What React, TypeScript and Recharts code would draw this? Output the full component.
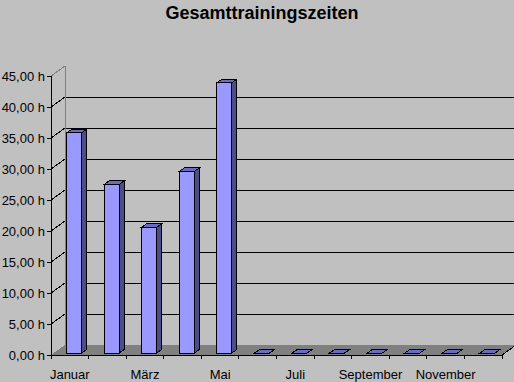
import React from 'react';
import { BarChart, Bar, XAxis, YAxis, CartesianGrid } from 'recharts';

const months = ['Januar', 'Februar', 'März', 'April', 'Mai', 'Juni', 'Juli', 'August', 'September', 'Oktober', 'November', 'Dezember'];
const hours = [35.5, 27.2, 20.3, 29.3, 43.6, 0, 0, 0, 0, 0, 0, 0];
const yTicks = [0, 5, 10, 15, 20, 25, 30, 35, 40, 45];

const data = months.map((month, i) => ({ month, hours: hours[i] }));

const W = 514;
const H = 382;
const MARGIN = { top: 76, right: 12, left: 0, bottom: 0 };
const Y_AXIS_W = 51;
const X_AXIS_H = 27;
const PLOT_LEFT = MARGIN.left + Y_AXIS_W;
const PLOT_RIGHT = W - MARGIN.right;
const PLOT_TOP = MARGIN.top;
const PLOT_BOTTOM = H - MARGIN.bottom - X_AXIS_H;
const BAND = (PLOT_RIGHT - PLOT_LEFT) / months.length;

// 3d wall depth and bar depth
const WALL_DX = 14;
const WALL_DY = -10;
const BAR_DX = 5;
const BAR_DY = -3.5;
const BAR_SHIFT_X = 4.6;
const BAR_SHIFT_Y = -2;

const FONT = 'Arial, "Liberation Sans", sans-serif';

const fmtHours = (v: number) => v.toFixed(2).replace('.', ',') + ' h';

const GridLine = (p: any) => {
  const { x1, x2, y1, index } = p;
  if (Math.abs(y1 - PLOT_BOTTOM) < 1) {
    return (
      <g key={`grid-${index}`}>
        <polygon
          points={`${x1},${y1} ${x2},${y1} ${x2 + WALL_DX},${y1 + WALL_DY} ${x1 + WALL_DX},${y1 + WALL_DY}`}
          fill="#808080"
        />
        <line x1={x2} y1={y1} x2={x2 + WALL_DX} y2={y1 + WALL_DY} stroke="#000" />
      </g>
    );
  }
  if (Math.abs(y1 - PLOT_TOP) < 1) {
    return (
      <g key={`grid-${index}`}>
        <line x1={x1} y1={y1} x2={x1 + WALL_DX} y2={y1 + WALL_DY} stroke="#808080" />
        <line x1={x1 + WALL_DX} y1={y1 + WALL_DY} x2={x1 + WALL_DX} y2={PLOT_BOTTOM + WALL_DY} stroke="#808080" />
      </g>
    );
  }
  return (
    <g key={`grid-${index}`}>
      <line x1={x1} y1={y1} x2={x1 + WALL_DX} y2={y1 + WALL_DY} stroke="#000" />
      <line x1={x1 + WALL_DX} y1={y1 + WALL_DY} x2={x2 + WALL_DX} y2={y1 + WALL_DY} stroke="#000" />
    </g>
  );
};

const Bar3D = (props: any) => {
  const { x, y, width, height } = props;
  if (x == null || y == null) return null;
  const fx = x + BAR_SHIFT_X;
  const fy = y + BAR_SHIFT_Y;
  const h = Math.max(0, height || 0);
  const top = `${fx},${fy} ${fx + BAR_DX},${fy + BAR_DY} ${fx + width + BAR_DX},${fy + BAR_DY} ${fx + width},${fy}`;
  const side = `${fx + width},${fy} ${fx + width + BAR_DX},${fy + BAR_DY} ${fx + width + BAR_DX},${fy + BAR_DY + h} ${fx + width},${fy + h}`;
  return (
    <g>
      {h > 0 && <rect x={fx} y={fy} width={width} height={h} fill="#9999FF" stroke="#000" strokeWidth={1} />}
      {h > 0 && <polygon points={side} fill="#4D4D88" stroke="#000" strokeWidth={1} />}
      <polygon points={top} fill="#6B6BC4" stroke="#000" strokeWidth={1} />
    </g>
  );
};

const MonthTick = (props: any) => {
  const { x, y, payload, index } = props;
  const half = BAND / 2;
  return (
    <g>
      <line x1={x - half} y1={y} x2={x - half} y2={y + 4} stroke="#000" />
      {index === months.length - 1 && (
        <line x1={x + half} y1={y} x2={x + half} y2={y + 4} stroke="#000" />
      )}
      {index % 2 === 0 && (
        <text x={x} y={y + 24} textAnchor="middle" fontSize={13} fontFamily={FONT} fill="#000">
          {payload.value}
        </text>
      )}
    </g>
  );
};

export default function App() {
  return (
    <div style={{ position: 'fixed', left: 0, top: 0, width: W, height: H, background: '#C0C0C0' }}>
      <div
        style={{
          position: 'absolute',
          left: 262,
          top: 3,
          transform: 'translateX(-50%)',
          fontFamily: FONT,
          fontWeight: 'bold',
          fontSize: 18,
          lineHeight: '20px',
          whiteSpace: 'nowrap',
          color: '#000',
        }}
      >
        Gesamttrainingszeiten
      </div>
      <BarChart width={W} height={H} data={data} margin={MARGIN} style={{ shapeRendering: 'crispEdges' }}>
        <CartesianGrid vertical={false} horizontal={GridLine} />
        <XAxis
          dataKey="month"
          height={X_AXIS_H}
          interval={0}
          tickLine={false}
          tickSize={0}
          tickMargin={0}
          axisLine={{ stroke: '#000' }}
          tick={<MonthTick />}
        />
        <YAxis
          width={Y_AXIS_W}
          domain={[0, 45]}
          ticks={yTicks}
          interval={0}
          tickFormatter={fmtHours}
          tickSize={4}
          tickMargin={2}
          axisLine={{ stroke: '#000' }}
          tickLine={{ stroke: '#000' }}
          tick={{ fill: '#000', fontSize: 13, fontFamily: FONT }}
        />
        <Bar dataKey="hours" barSize={15} shape={Bar3D} isAnimationActive={false} />
      </BarChart>
    </div>
  );
}
